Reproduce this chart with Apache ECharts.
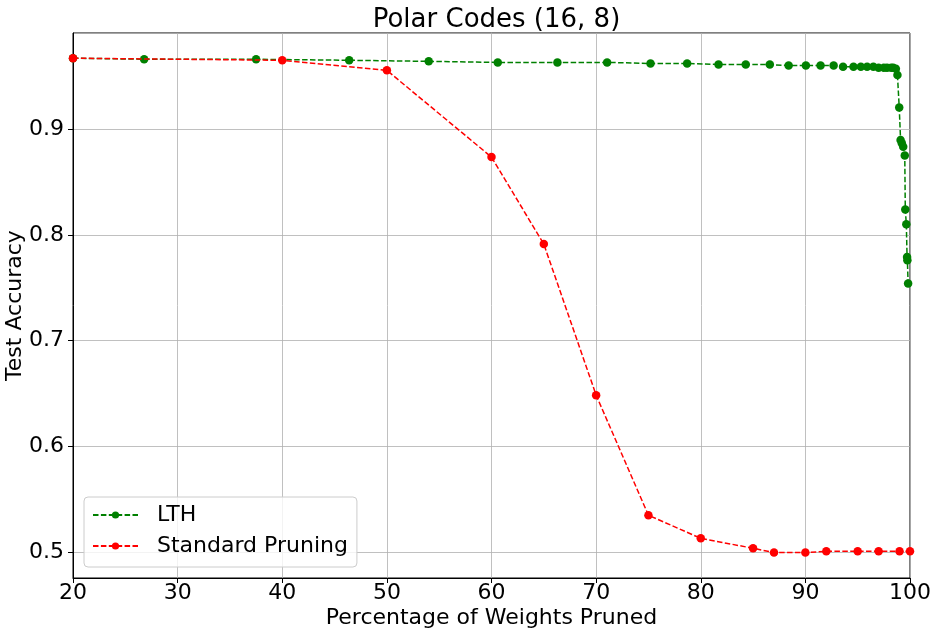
<!DOCTYPE html>
<html>
<head>
<meta charset="utf-8">
<script src="https://cdn.jsdelivr.net/npm/echarts@6/dist/echarts.min.js"></script>
<style>html,body{margin:0;padding:0;background:#fff;}#chart{width:938px;height:635px;}</style>
</head>
<body>
<div id="chart"></div>
<script>
const lthX = [20, 26.8, 37.5, 46.4, 54.0, 60.6, 66.3, 71.05, 75.2, 78.7, 81.7, 84.3, 86.6, 88.4, 90.05, 91.45, 92.7, 93.6, 94.6, 95.3, 95.9, 96.5, 97.0, 97.5, 97.8, 98.2, 98.4, 98.65, 98.8, 98.97, 99.1, 99.22, 99.35, 99.5, 99.55, 99.65, 99.72, 99.75, 99.82];
const lthY = [0.967, 0.966, 0.966, 0.965, 0.964, 0.963, 0.963, 0.963, 0.962, 0.962, 0.961, 0.961, 0.961, 0.960, 0.960, 0.960, 0.960, 0.959, 0.959, 0.959, 0.959, 0.959, 0.958, 0.958, 0.958, 0.958, 0.958, 0.957, 0.951, 0.9205, 0.8896, 0.8865, 0.8833, 0.875, 0.824, 0.810, 0.779, 0.776, 0.754];
const stdX = [20, 40, 50, 60, 65, 70, 75, 80, 85, 87, 90, 92, 95, 97, 99, 100];
const stdY = [0.967, 0.965, 0.9555, 0.8735, 0.7913, 0.6485, 0.535, 0.5132, 0.5038, 0.4998, 0.4998, 0.5009, 0.5009, 0.5009, 0.5009, 0.5009];
const seriesNames = ['LTH', 'Standard Pruning'];
const titleText = 'Polar Codes (16, 8)';
const xName = 'Percentage of Weights Pruned';
const yName = 'Test Accuracy';

const FONT = 'DejaVu Sans';
const chart = echarts.init(document.getElementById('chart'), null, {renderer: 'canvas'});
const zip = (a, b) => a.map((v, i) => [v, b[i]]);
const dash = [5.5, 2.4];
chart.setOption({
  animation: false,
  backgroundColor: '#fff',
  textStyle: {fontFamily: FONT},
  title: {
    text: titleText, left: 491.5, top: 2, textAlign: 'center',
    textStyle: {fontFamily: FONT, fontSize: 26, fontWeight: 'normal', color: '#000'}
  },
  grid: {left: 73, right: 28, top: 33, bottom: 57, containLabel: false, outerBoundsMode: 'none',
    show: true, borderColor: '#000', borderWidth: 1, backgroundColor: 'transparent'},
  legend: {
    orient: 'vertical', left: 84, top: 497,
    data: seriesNames,
    itemWidth: 45, itemHeight: 9, itemGap: 5,
    padding: [5, 9, 8, 8],
    borderColor: '#cccccc', borderWidth: 1, borderRadius: 4,
    backgroundColor: 'rgba(255,255,255,0.8)',
    textStyle: {fontFamily: FONT, fontSize: 22, color: '#000', lineHeight: 26, padding: [0, 0, 0, 14]}
  },
  xAxis: {
    type: 'value', min: 20, max: 100, interval: 10,
    name: xName, nameLocation: 'middle', nameGap: 29, nameMoveOverlap: false,
    nameTextStyle: {fontFamily: FONT, fontSize: 22, color: '#000'},
    axisLine: {show: true, onZero: false, lineStyle: {color: '#000', width: 1}},
    axisTick: {show: true, inside: false, length: 5, lineStyle: {color: '#000'}},
    axisLabel: {fontFamily: FONT, fontSize: 22, color: '#000', margin: 4},
    splitLine: {show: true, lineStyle: {color: '#b0b0b0', width: 0.8}}
  },
  yAxis: {
    type: 'value', min: 0.4757, max: 0.9908, splitNumber: 5,
    name: yName, nameLocation: 'middle', nameGap: 47, nameMoveOverlap: false,
    nameTextStyle: {fontFamily: FONT, fontSize: 22, color: '#000'},
    axisLine: {show: true, onZero: false, lineStyle: {color: '#000', width: 1}},
    axisTick: {show: true, inside: false, length: 5, lineStyle: {color: '#000'}},
    axisLabel: {fontFamily: FONT, fontSize: 22, color: '#000', margin: 9, showMinLabel: false, showMaxLabel: false,
      formatter: v => v.toFixed(1)},
    splitLine: {show: true, lineStyle: {color: '#b0b0b0', width: 0.8}}
  },
  series: [
    {
      name: seriesNames[0], type: 'line', data: zip(lthX, lthY),
      symbol: 'circle', symbolSize: 8.5, showAllSymbol: true,
      lineStyle: {color: '#008000', width: 1.5, type: dash},
      itemStyle: {color: '#008000'}, z: 2
    },
    {
      name: seriesNames[1], type: 'line', data: zip(stdX, stdY),
      symbol: 'circle', symbolSize: 8.5, showAllSymbol: true,
      lineStyle: {color: '#ff0000', width: 1.5, type: dash},
      itemStyle: {color: '#ff0000'}, z: 3
    }
  ]
});
</script>
</body>
</html>
